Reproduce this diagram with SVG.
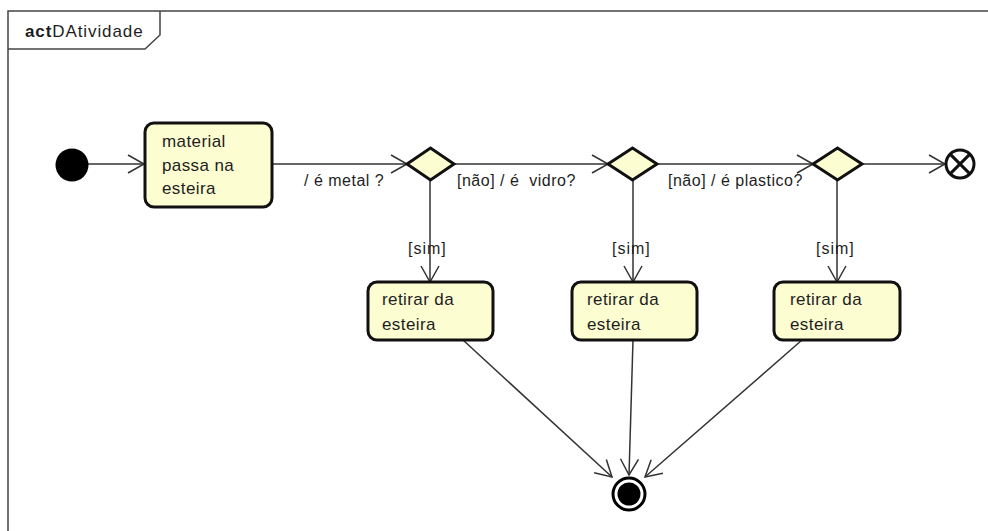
<svg xmlns="http://www.w3.org/2000/svg" width="988" height="531" viewBox="0 0 988 531">
  <style>
    text { font-family: "Liberation Sans", Arial, sans-serif; fill: #1e1e1e; }
    .body { font-size: 17px; letter-spacing: 0.4px; }
    .lbl { font-size: 16px; letter-spacing: 0.5px; white-space: pre; }
    .frame { fill: none; stroke: #444; stroke-width: 1.5; }
    .action { fill: #fdfdd2; stroke: #111; stroke-width: 3; }
    .decision { fill: #fdfdd2; stroke: #111; stroke-width: 3; stroke-linejoin: miter; }
    .flow { fill: none; stroke: #333; stroke-width: 1.5; marker-end: url(#open); }
  </style>
  <defs>
    <marker id="open" viewBox="-18 -11 20 22" refX="0" refY="0" markerWidth="20" markerHeight="22" markerUnits="userSpaceOnUse" orient="auto">
      <path d="M-16,-9 L0,0 L-16,9" fill="none" stroke="#333" stroke-width="1.5"/>
    </marker>
  </defs>

  <rect width="988" height="531" fill="#ffffff"/>

  <!-- activity frame -->
  <g id="frame">
    <path class="frame" d="M8,531 V11 H988"/>
    <path class="frame" d="M8,49 H145 L160,35 V11"/>
    <text x="25" y="37" style="font-size:17px;letter-spacing:0.9px"><tspan font-weight="bold">act</tspan><tspan>DAtividade</tspan></text>
  </g>

  <!-- control flows -->
  <g id="connectors">
    <line class="flow" x1="88" y1="164" x2="144" y2="164"/>
    <line class="flow" x1="272" y1="164" x2="407" y2="164"/>
    <line class="flow" x1="454" y1="164" x2="608" y2="164"/>
    <line class="flow" x1="657" y1="164" x2="813" y2="164"/>
    <line class="flow" x1="862" y1="164" x2="945" y2="164"/>
    <line class="flow" x1="430" y1="180" x2="430" y2="282"/>
    <line class="flow" x1="633" y1="180" x2="633" y2="282"/>
    <line class="flow" x1="837" y1="180" x2="837" y2="282"/>
    <line class="flow" x1="463" y1="340" x2="612" y2="477"/>
    <line class="flow" x1="633" y1="340" x2="629" y2="475"/>
    <line class="flow" x1="802" y1="340" x2="645" y2="477"/>
    <text class="lbl" x="304" y="186">/ é metal ?</text>
    <text class="lbl" x="457" y="186">[não] / é  vidro?</text>
    <text class="lbl" x="668" y="186">[não] / é plastico?</text>
    <text class="lbl" x="408" y="254" style="letter-spacing:1px">[sim]</text>
    <text class="lbl" x="612" y="254" style="letter-spacing:1px">[sim]</text>
    <text class="lbl" x="816" y="254" style="letter-spacing:1px">[sim]</text>
  </g>

  <g id="initial">
    <circle cx="72" cy="165" r="16.5" fill="#000"/>
  </g>

  <g id="material-passa">
    <rect class="action" x="145" y="123" width="127" height="84" rx="9"/>
    <text class="body" x="162" y="147">material</text>
    <text class="body" x="162" y="171">passa na</text>
    <text class="body" x="162" y="194">esteira</text>
  </g>

  <g id="decisao-metal">
    <polygon class="decision" points="407,164 430.5,148 454,164 430.5,180"/>
  </g>
  <g id="decisao-vidro">
    <polygon class="decision" points="608,164 632.5,148 657,164 632.5,180"/>
  </g>
  <g id="decisao-plastico">
    <polygon class="decision" points="813,164 837.5,148 862,164 837.5,180"/>
  </g>

  <g id="fim-fluxo">
    <circle cx="960" cy="164" r="14" fill="#fff" stroke="#111" stroke-width="3"/>
    <path d="M950.1,154.1 L969.9,173.9 M969.9,154.1 L950.1,173.9" stroke="#111" stroke-width="3"/>
  </g>

  <g id="retirar-metal">
    <rect class="action" x="368" y="282" width="125" height="58" rx="9"/>
    <text class="body" x="382" y="305">retirar da</text>
    <text class="body" x="382" y="330">esteira</text>
  </g>
  <g id="retirar-vidro">
    <rect class="action" x="572" y="282" width="125" height="58" rx="9"/>
    <text class="body" x="587" y="305">retirar da</text>
    <text class="body" x="587" y="330">esteira</text>
  </g>
  <g id="retirar-plastico">
    <rect class="action" x="774" y="282" width="126" height="58" rx="9"/>
    <text class="body" x="790" y="305">retirar da</text>
    <text class="body" x="790" y="330">esteira</text>
  </g>

  <g id="final">
    <circle cx="629" cy="494" r="16" fill="#fff" stroke="#000" stroke-width="3"/>
    <circle cx="629" cy="494" r="11.5" fill="#000"/>
  </g>
</svg>
